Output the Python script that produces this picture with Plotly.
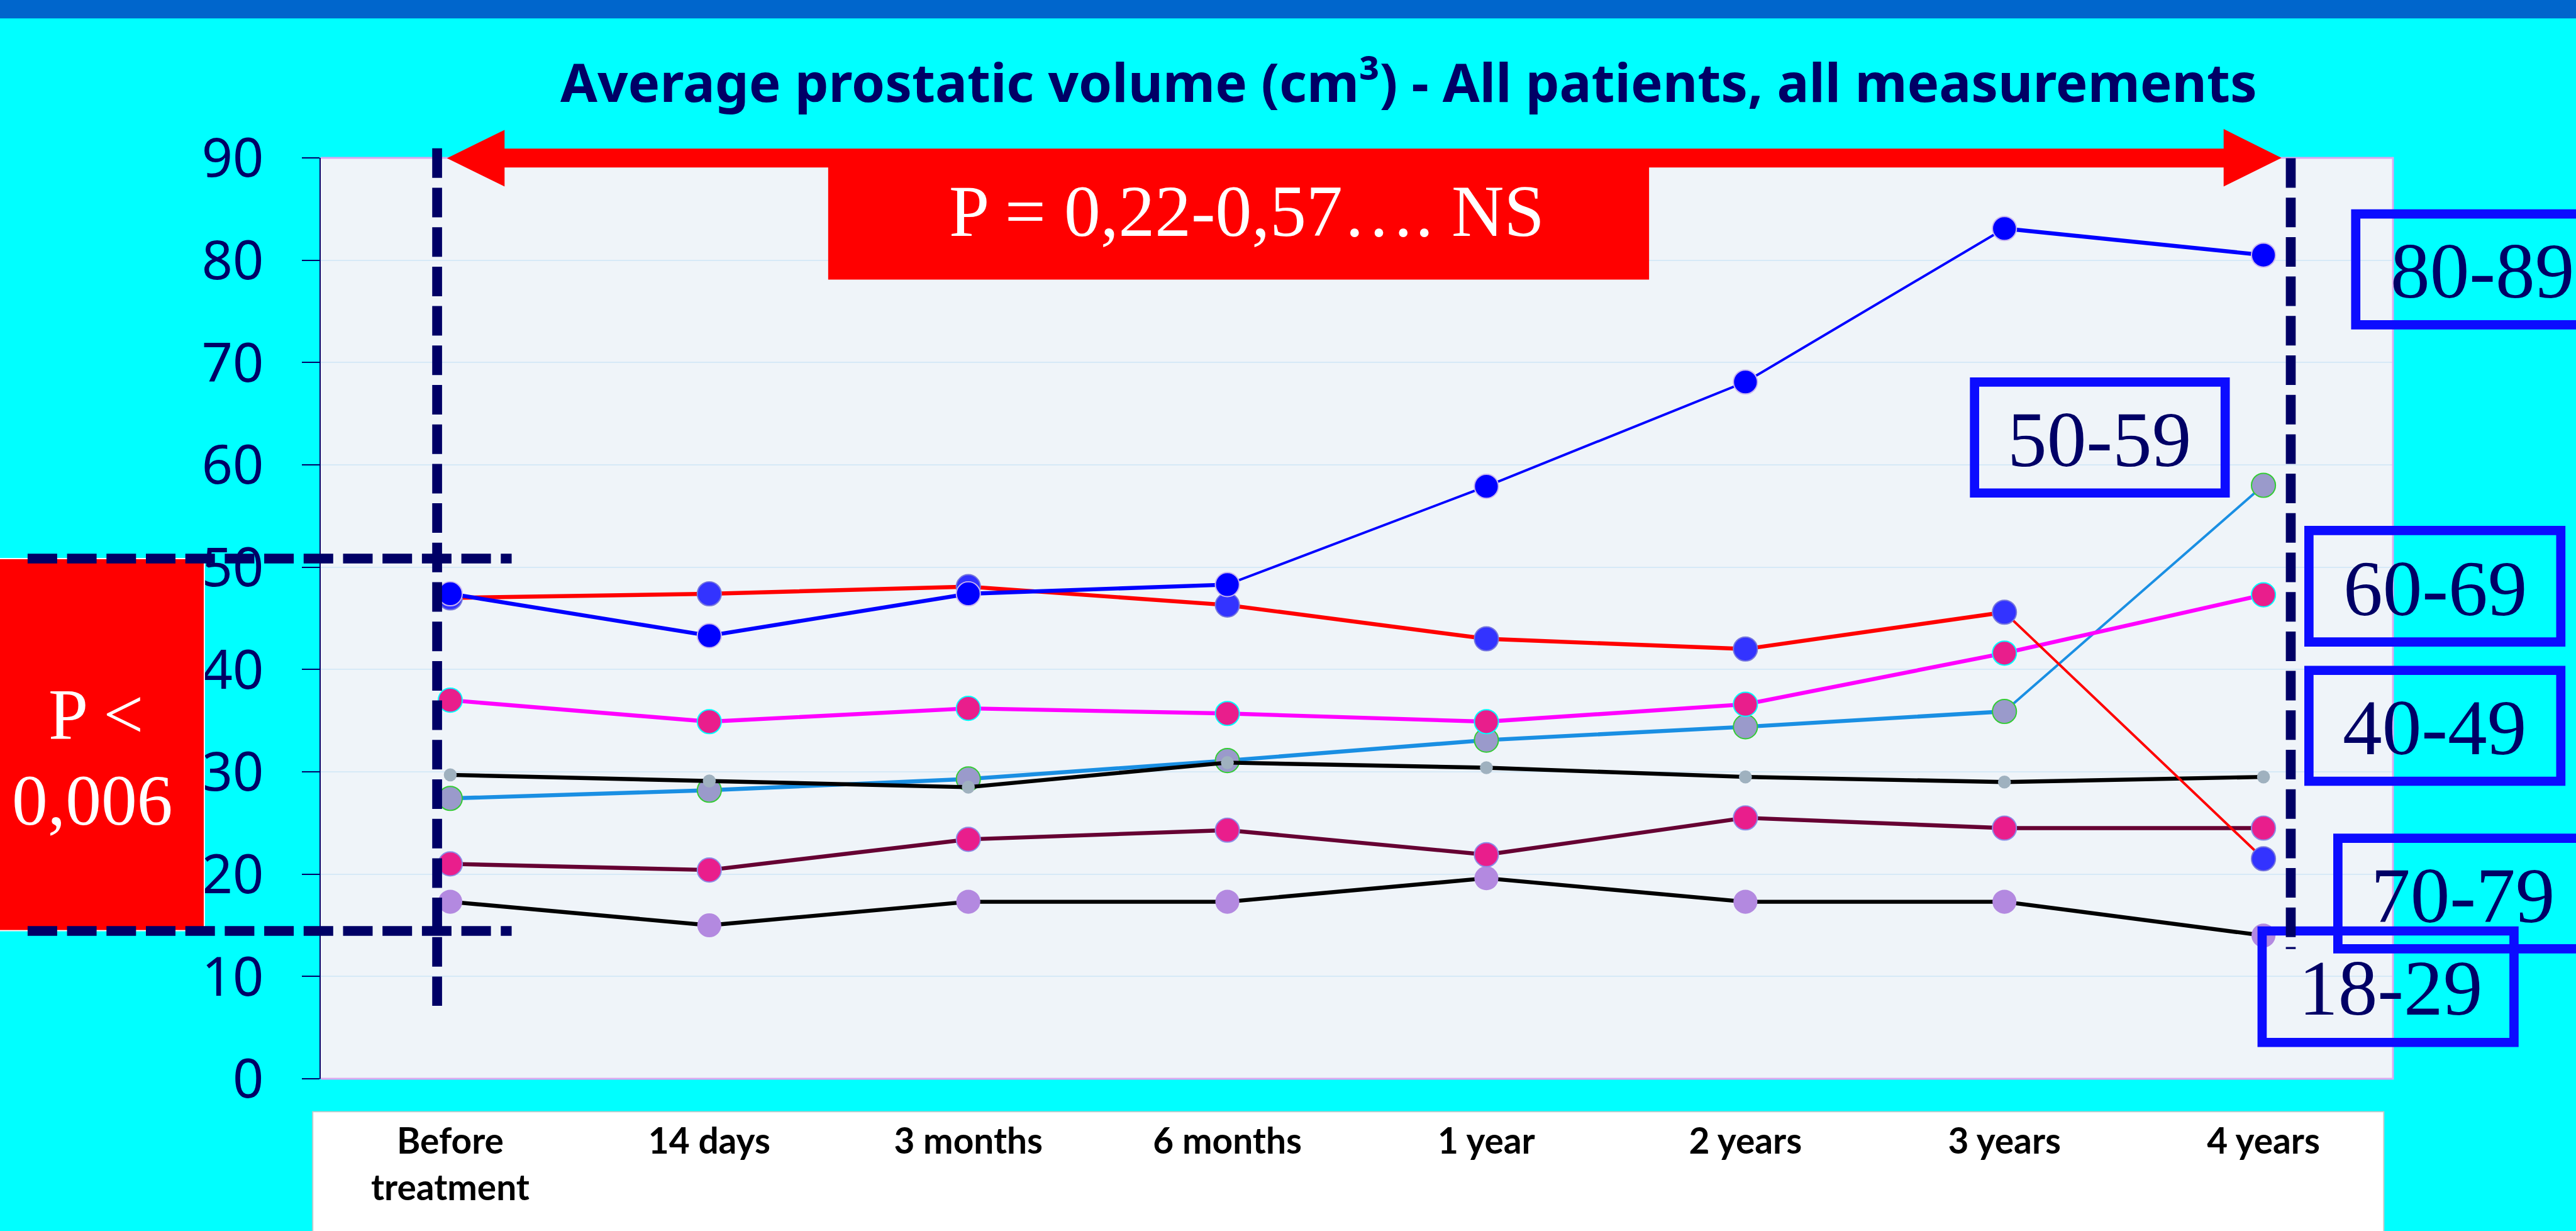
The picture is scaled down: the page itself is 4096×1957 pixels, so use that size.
import plotly.graph_objects as go

# ---------------- data ----------------
categories = ["Before<br>treatment", "14 days", "3 months", "6 months",
              "1 year", "2 years", "3 years", "4 years"]
vol_80_89 = [47.4, 43.3, 47.4, 48.3, 57.9, 68.1, 83.1, 80.5]
vol_70_79 = [47.0, 47.4, 48.1, 46.3, 43.0, 42.0, 45.6, 21.5]
vol_60_69 = [37.0, 34.9, 36.2, 35.7, 34.9, 36.6, 41.6, 47.3]
vol_50_59 = [27.4, 28.2, 29.3, 31.1, 33.1, 34.4, 35.9, 58.0]
vol_40_49 = [29.7, 29.1, 28.5, 30.9, 30.4, 29.5, 29.0, 29.5]
vol_30_39 = [21.0, 20.4, 23.4, 24.3, 21.9, 25.5, 24.5, 24.5]
vol_18_29 = [17.3, 15.0, 17.3, 17.3, 19.6, 17.3, 17.3, 14.0]
y_tick_values = [0, 10, 20, 30, 40, 50, 60, 70, 80, 90]

title_text = "Average prostatic volume (cm³) - All patients, all measurements"
p_ns_text = "P = 0,22-0,57…. NS"
p_sig_line1 = "P <"
p_sig_line2 = "0,006"
group_labels = ["80-89", "50-59", "60-69", "40-49", "70-79", "18-29"]

# ---------------- geometry (reference pixels -> render) ----------------
W, H = 4096, 1957
S = 4096 / 4183
REF_L, REF_R, REF_T, REF_B = 521, 3886, 256.5, 1751.5

def px(X):
    return (X - REF_L) / (REF_R - REF_L)

def py(Y):
    return (REF_B - Y) / (REF_B - REF_T)

def sz(v):
    return v * S

NAVY = "#000066"
THICK, THIN = 6.5, 4.0

fig = go.Figure()

series = [
    # values, name, line color, thin segment index ranges, marker color, size, outline color, outline width
    (vol_18_29, "18-29", "#000000", [], "#B389E0", 39, "#B389E0", 0),
    (vol_30_39, "30-39", "#660033", [], "#E91E8C", 39, "#8C8CE6", 2),
    (vol_50_59, "50-59", "#1A8FE3", [(6, 7)], "#9A9ACB", 39, "#33CC33", 2),
    (vol_40_49, "40-49", "#000000", [], "#9FB1BF", 21, "#9FB1BF", 0),
    (vol_60_69, "60-69", "#FF00FF", [], "#E91E8C", 39, "#00FFFF", 2),
    (vol_70_79, "70-79", "#FF0000", [(6, 7)], "#3333FF", 39, "#7777DD", 2),
    (vol_80_89, "80-89", "#0000FF", [(3, 6)], "#0000FF", 39, "#C8B4F0", 2),
]
for vals, name, lc, thin, mc, ms, oc, ow in series:
    thin_idx = set()
    for a, b in thin:
        thin_idx.update(range(a, b))  # segment i -> i+1 is thin
    keep = set()
    for i in range(len(vals) - 1):
        if i not in thin_idx:
            keep.update((i, i + 1))
    thick_y = [v if i in keep else None for i, v in enumerate(vals)]
    fig.add_trace(go.Scatter(
        x=categories, y=thick_y, mode="lines", connectgaps=False,
        line=dict(color=lc, width=sz(THICK)), showlegend=False, hoverinfo="skip"))
    fig.add_trace(go.Scatter(
        x=categories, y=vals, name=name, mode="lines+markers",
        line=dict(color=lc, width=sz(THIN)),
        marker=dict(color=mc, size=sz(ms), line=dict(color=oc, width=sz(ow))),
        showlegend=False, hoverinfo="skip",
    ))

shapes = []
# blue band at top
shapes.append(dict(type="rect", xref="paper", yref="paper", layer="below",
                   x0=px(-20), x1=px(4220), y0=py(30), y1=py(-20),
                   fillcolor="#0066CC", line=dict(width=0)))
# white label box under the plot
shapes.append(dict(type="rect", xref="paper", yref="paper", layer="below",
                   x0=px(508), x1=px(3871), y0=py(2020), y1=py(1805),
                   fillcolor="#FFFFFF", line=dict(color="#C8C8C8", width=sz(2))))
# plot border (top, right, bottom)
shapes.append(dict(type="path", xref="paper", yref="paper", layer="above",
                   path=f"M {px(REF_L)},{py(REF_T)} L {px(REF_R)},{py(REF_T)} L {px(REF_R)},{py(REF_B)} L {px(REF_L)},{py(REF_B)}",
                   line=dict(color="#DCA8F0", width=sz(3))))
# red box left
shapes.append(dict(type="rect", xref="paper", yref="paper", layer="above",
                   x0=px(-5), x1=px(332), y0=py(1511), y1=py(907),
                   fillcolor="#FF0000", line=dict(color="#FFFFFF", width=sz(2))))
# red double arrow
arrow_pts = [(726, 257), (819.5, 211), (819.5, 241.5), (3611, 241.5), (3611, 209.6),
             (3705, 256.5), (3611, 303), (3611, 272), (819.5, 272), (819.5, 303)]
path = "M " + " L ".join(f"{px(a)},{py(b)}" for a, b in arrow_pts) + " Z"
shapes.append(dict(type="path", xref="paper", yref="paper", layer="above",
                   path=path, fillcolor="#FF0000", line=dict(width=0)))
# red NS box
shapes.append(dict(type="rect", xref="paper", yref="paper", layer="above",
                   x0=px(1345), x1=px(2678), y0=py(454), y1=py(245),
                   fillcolor="#FF0000", line=dict(width=0)))
# group label boxes
box_coords = [
    (3825.5, 347.5, 4230, 527.5),
    (3206.5, 620.5, 3613.5, 800.5),
    (3749.5, 861.5, 4158.5, 1042.5),
    (3749.5, 1088.5, 4158.5, 1268.5),
    (3796.5, 1361, 4230, 1540.5),
    (3673.5, 1511.5, 4082.5, 1692.5),
]
for x0, y0, x1, y1 in box_coords:
    shapes.append(dict(type="rect", xref="paper", yref="paper", layer="above",
                       x0=px(x0), x1=px(x1), y0=py(y1), y1=py(y0),
                       fillcolor="rgba(0,0,0,0)", line=dict(color="#0C0CFF", width=sz(15))))
# dashed navy lines
dash = f"{sz(48):.1f}px,{sz(16):.1f}px"
for (xa, ya, xb, yb) in [(710, 241, 710, 1633), (3720, 257, 3720, 1541),
                         (45, 907, 831, 907), (45, 1511.5, 831, 1511.5)]:
    shapes.append(dict(type="line", xref="paper", yref="paper", layer="above",
                       x0=px(xa), y0=py(ya), x1=px(xb), y1=py(yb),
                       line=dict(color=NAVY, width=sz(16), dash=dash)))

annotations = []
annotations.append(dict(xref="paper", yref="paper", x=px(2288), y=py(132),
                        xanchor="center", yanchor="middle", showarrow=False,
                        text=f"<b>{title_text}</b>",
                        font=dict(family="Noto Sans", size=sz(87), color=NAVY)))
annotations.append(dict(xref="paper", yref="paper", x=px(2025), y=py(343),
                        xanchor="center", yanchor="middle", showarrow=False,
                        text=p_ns_text,
                        font=dict(family="Liberation Serif", size=sz(118), color="#FFFFFF")))
annotations.append(dict(xref="paper", yref="paper", x=px(156), y=py(1160),
                        xanchor="center", yanchor="middle", showarrow=False,
                        text=p_sig_line1,
                        font=dict(family="Liberation Serif", size=sz(116), color="#FFFFFF")))
annotations.append(dict(xref="paper", yref="paper", x=px(150), y=py(1300),
                        xanchor="center", yanchor="middle", showarrow=False,
                        text=p_sig_line2,
                        font=dict(family="Liberation Serif", size=sz(116), color="#FFFFFF")))
label_pos = [(4031, 440), (3409, 713), (3954, 955), (3953, 1181), (3999, 1454), (3882, 1604)]
for lab, (lx, ly) in zip(group_labels, label_pos):
    annotations.append(dict(xref="paper", yref="paper", x=px(lx), y=py(ly),
                            xanchor="center", yanchor="middle", showarrow=False,
                            text=lab,
                            font=dict(family="Liberation Serif", size=sz(128), color=NAVY)))

fig.update_layout(
    width=W, height=H,
    margin=dict(l=REF_L * S, r=W - REF_R * S, t=REF_T * S, b=H - REF_B * S, pad=0),
    paper_bgcolor="#00FFFF",
    plot_bgcolor="#EFF4F9",
    shapes=shapes,
    annotations=annotations,
    xaxis=dict(type="category", range=[-0.5, 7.5], showgrid=False, zeroline=False,
               showline=False, ticks="", ticklabelstandoff=int(round(sz(62))),
               tickfont=dict(family="Lato", size=sz(58), color="#000000", weight="bold")),
    yaxis=dict(range=[0, 90], tickvals=y_tick_values, showgrid=True,
               gridcolor="#D6E9F7", gridwidth=sz(2), zeroline=False,
               showline=True, linecolor=NAVY, linewidth=sz(2),
               ticks="outside", ticklen=sz(29), tickwidth=sz(2), tickcolor=NAVY,
               ticklabelstandoff=int(round(sz(44))),
               tickfont=dict(family="Noto Sans", size=sz(88), color=NAVY)),
)

fig.write_html(
    "out.html",
    config={"displayModeBar": False},
    post_script="document.body.style.margin='0px';document.body.style.overflow='hidden';",
)
